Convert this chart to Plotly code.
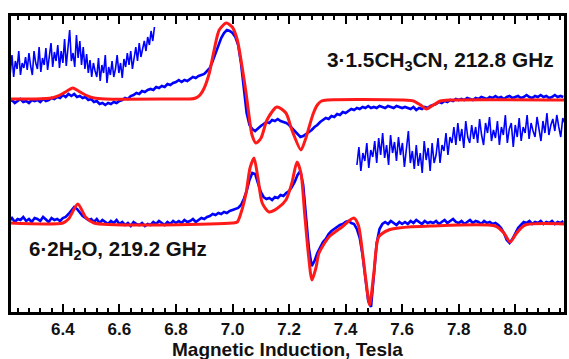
import numpy as np
import plotly.graph_objects as go

# ---------------- data (field in Tesla, signal in arbitrary units) ----------------
# top spectrum 3·1.5CH3CN, measured trace (sampled every 0.01 T from 6.21 T)
top_field_start, top_field_step = 6.21, 0.01
top_blue = [
    211, 213, 210, 212, 214, 211, 212, 210, 213, 212,
    213, 211, 214, 212, 213, 215, 214, 216, 215, 218,
    216, 219, 217, 219, 216, 217, 215, 216, 213, 214,
    211, 212, 209, 210, 208, 210, 209, 211, 210, 212,
    213, 215, 214, 217, 218, 220, 219, 222, 221, 223,
    224, 223, 226, 225, 227, 226, 229, 228, 230, 231,
    233, 231, 233, 232, 234, 236, 235, 237, 238, 239,
    242, 245, 252, 260, 268, 275, 280, 283, 282, 280,
    276, 268, 250, 225, 200, 188, 184, 182, 185, 187,
    189, 191, 190, 193, 192, 194, 192, 191, 190, 188,
    185, 182, 179, 176, 177, 179, 181, 183, 186, 188,
    191, 193, 195, 194, 197, 196, 199, 198, 201, 200,
    202, 204, 203, 205, 204, 206, 205, 207, 205, 206,
    205, 207, 206, 205, 207, 206, 205, 207, 206, 205,
    206, 205, 204, 206, 203, 205, 204, 206, 205, 207,
    208, 209, 211, 210, 212, 211, 213, 212, 214, 213,
    214, 213, 215, 214, 213, 215, 214, 216, 215, 214,
    216, 215, 217, 215, 216, 214, 216, 217, 215, 216,
    217, 215, 216, 218, 216, 215, 217, 216, 218, 216,
    217, 215, 216, 218, 216, 217, 216,
]

# top spectrum, fitted simulation
top_fit_field = [6.213, 6.30, 6.36, 6.39, 6.415, 6.435, 6.455, 6.48, 6.51, 6.55,
                 6.80, 6.85, 6.87, 6.885, 6.900, 6.918, 6.935, 6.953, 6.978, 6.999,
                 7.017, 7.034, 7.048, 7.059, 7.069, 7.083, 7.101, 7.122, 7.157, 7.189,
                 7.210, 7.242, 7.256, 7.270, 7.285, 7.300, 7.315, 7.335, 7.60, 7.64,
                 7.665, 7.686, 7.71, 7.735, 7.77, 8.176]
top_fit = [214, 214, 215, 218, 222, 225, 222, 218, 215, 214,
           214, 214, 215, 218, 225, 240, 263, 283, 290, 286,
           273, 246, 220, 196, 178, 170, 175, 193, 206, 200,
           183, 163, 172, 185, 199, 208, 212, 213, 213, 212,
           208, 204, 208, 212, 213, 213]

# enlarged low-field part of the top spectrum (every 0.006 T from 6.214 T)
zoom1_field_start, zoom1_field_step = 6.214, 0.006
zoom1_blue = [
    240, 258, 236, 252, 244, 262, 238, 250, 245, 256,
    243, 260, 247, 238, 262, 250, 244, 266, 241, 255,
    248, 265, 243, 258, 270, 246, 261, 252, 268, 245,
    262, 250, 274, 247, 266, 283, 252, 260, 246, 278,
    255, 272, 248, 266, 244, 259, 240, 253, 236, 250,
    242, 236, 255, 232, 248, 240, 258, 230, 246, 238,
    252, 236, 244, 258, 240, 250, 235, 254, 246, 260,
    248, 262, 244, 258, 266, 252, 270, 256, 264, 272,
    262, 276, 268, 282, 272, 286,
]

# enlarged high-field part of the top spectrum (every 0.007 T from 7.440 T)
zoom2_field_start, zoom2_field_step = 7.440, 0.007
zoom2_blue = [
    148, 166, 142, 160, 152, 170, 145, 163, 156, 172,
    150, 175, 158, 180, 155, 168, 148, 178, 160, 171,
    152, 176, 158, 170, 146, 165, 182, 150, 162, 144,
    168, 147, 160, 140, 172, 153, 165, 142, 170, 150,
    158, 175, 150, 168, 162, 180, 158, 176, 170, 186,
    168, 190, 172, 184, 165, 192, 176, 170, 188, 174,
    186, 170, 194, 178, 168, 190, 180, 196, 172, 183,
    175, 192, 168, 186, 178, 198, 170, 184, 190, 166,
    188, 176, 195, 172, 186, 180, 198, 174, 190, 182,
    176, 196, 184, 172, 192, 180, 200, 178, 188, 194,
    182, 198, 186, 176, 195, 190,
]

# bottom spectrum 6·2H2O, measured trace (every 0.01 T from 6.21 T)
bot_field_start, bot_field_step = 6.21, 0.01
bot_blue = [
    92, 95, 91, 94, 93, 96, 92, 94, 91, 95,
    94, 92, 96, 93, 91, 95, 93, 94, 92, 95,
    96, 99, 102, 106, 104, 100, 97, 95, 93, 94,
    91, 94, 90, 93, 91, 89, 92, 90, 93, 89,
    91, 88, 90, 87, 91, 89, 88, 90, 87, 89,
    88, 91, 89, 92, 90, 88, 91, 89, 92, 90,
    92, 90, 93, 91, 92, 94, 91, 93, 95, 94,
    96, 97, 99, 98, 100, 99, 101, 100, 102, 103,
    104, 105, 108, 114, 122, 133, 140, 139, 130, 121,
    116, 114, 115, 113, 116, 115, 118, 117, 120, 122,
    126, 131, 138, 142, 128, 95, 65, 47, 52, 60,
    66, 71, 74, 79, 82, 84, 86, 88, 89, 91,
    92, 90, 89, 84, 75, 58, 35, 12, 6, 38,
    70, 84, 89, 91, 89, 92, 90, 88, 91, 89,
    91, 89, 92, 90, 93, 91, 89, 92, 90, 91,
    90, 92, 89, 91, 93, 90, 92, 94, 91, 90,
    92, 89, 91, 93, 90, 92, 91, 89, 92, 90,
    91, 89, 90, 88, 85, 80, 73, 70, 74, 80,
    85, 88, 91, 90, 92, 89, 91, 90, 92, 89,
    91, 90, 92, 89, 91, 90, 92,
]

# bottom spectrum, fitted simulation
bot_fit_field = [6.213, 6.40, 6.42, 6.453, 6.48, 6.51, 7.00, 7.017, 7.03, 7.048,
                 7.062, 7.076, 7.09, 7.105, 7.129, 7.16, 7.189, 7.21, 7.228, 7.242,
                 7.255, 7.268, 7.281, 7.295, 7.306, 7.341, 7.387, 7.429, 7.445, 7.460,
                 7.473, 7.485, 7.50, 7.517, 7.552, 7.587, 7.70, 7.93, 7.96, 7.982,
                 8.005, 8.035, 8.176]
bot_fit = [90, 90, 94, 109, 96, 90, 90, 91, 100, 120,
           145, 155, 135, 110, 101, 105, 113, 130, 151, 140,
           100, 60, 33, 45, 60, 76, 86, 95, 88, 60,
           30, 8, 40, 76, 83, 85, 87, 87, 80, 71,
           80, 88, 89]

x_tick_step = 0.2
x_minor_step = 0.04
x_range = [6.213, 8.176]
y_range = [0, 298]

labels = {
    "top": "3·1.5CH<sub>3</sub>CN, 212.8 GHz",
    "bottom": "6·2H<sub>2</sub>O, 219.2 GHz",
    "xtitle": "Magnetic Induction, Tesla",
}


def field(start, step, values):
    return np.round(start + step * np.arange(len(values)), 4)


BLUE = "#0000ff"
RED = "#ff1a1a"
FONT = "Liberation Sans, Arial, sans-serif"

fig = go.Figure()

blue_sets = [
    (field(top_field_start, top_field_step, top_blue), top_blue, 2.6),
    (field(zoom1_field_start, zoom1_field_step, zoom1_blue), zoom1_blue, 1.6),
    (field(zoom2_field_start, zoom2_field_step, zoom2_blue), zoom2_blue, 1.6),
    (field(bot_field_start, bot_field_step, bot_blue), bot_blue, 2.6),
]
for xs, ys, w in blue_sets:
    fig.add_trace(go.Scatter(x=xs, y=ys, mode="lines",
                             line=dict(color=BLUE, width=w),
                             showlegend=False, hoverinfo="skip"))

for xs, ys in [(top_fit_field, top_fit), (bot_fit_field, bot_fit)]:
    fig.add_trace(go.Scatter(x=xs, y=ys, mode="lines",
                             line=dict(color=RED, width=3, shape="spline", smoothing=0.7),
                             showlegend=False, hoverinfo="skip"))

# an empty trace on a top x axis so the upper frame carries the same ticks
fig.add_trace(go.Scatter(x=[None], y=[None], xaxis="x2", showlegend=False, hoverinfo="skip"))

fig.add_annotation(x=7.327, y=252, xref="x", yref="y", text="<b>" + labels["top"] + "</b>",
                   showarrow=False, xanchor="left", yanchor="middle",
                   font=dict(family=FONT, size=20.8, color="#111111"))
fig.add_annotation(x=6.273, y=63, xref="x", yref="y", text="<b>" + labels["bottom"] + "</b>",
                   showarrow=False, xanchor="left", yanchor="middle",
                   font=dict(family=FONT, size=20.5, color="#111111"))
fig.add_annotation(x=0.5, y=-0.121, xref="paper", yref="paper", text="<b>" + labels["xtitle"] + "</b>",
                   showarrow=False, xanchor="center", yanchor="middle",
                   font=dict(family=FONT, size=19, color="#111111"))

# plot frame
fig.add_shape(type="rect", xref="paper", yref="paper", x0=0, x1=1, y0=0, y1=1,
              line=dict(color="black", width=2), layer="above")

tick_style = dict(showgrid=False, zeroline=False,
                  showline=True, linecolor="black", linewidth=2,
                  ticks="inside", ticklen=9, tickwidth=2, tickcolor="black",
                  tick0=6.0, dtick=x_tick_step,
                  minor=dict(ticks="inside", ticklen=5, tickwidth=1.5, tickcolor="black",
                             dtick=x_minor_step, showgrid=False))

fig.update_layout(
    width=569, height=359,
    margin=dict(l=10, r=2, t=15, b=46),
    paper_bgcolor="white", plot_bgcolor="white",
    xaxis=dict(range=x_range, mirror=True, tickformat=".1f",
               tickfont=dict(family=FONT, size=17, color="#111111", weight="bold"),
               **tick_style),
    xaxis2=dict(range=x_range, overlaying="x", side="top", showticklabels=False,
                anchor="y", **tick_style),
    yaxis=dict(range=y_range, showgrid=False, zeroline=False, showticklabels=False,
               showline=True, linecolor="black", linewidth=2, mirror=True, ticks=""),
)

fig.write_html("out.html", config={"displayModeBar": False},
               post_script="document.body.style.margin='0';document.body.style.overflow='hidden';")
